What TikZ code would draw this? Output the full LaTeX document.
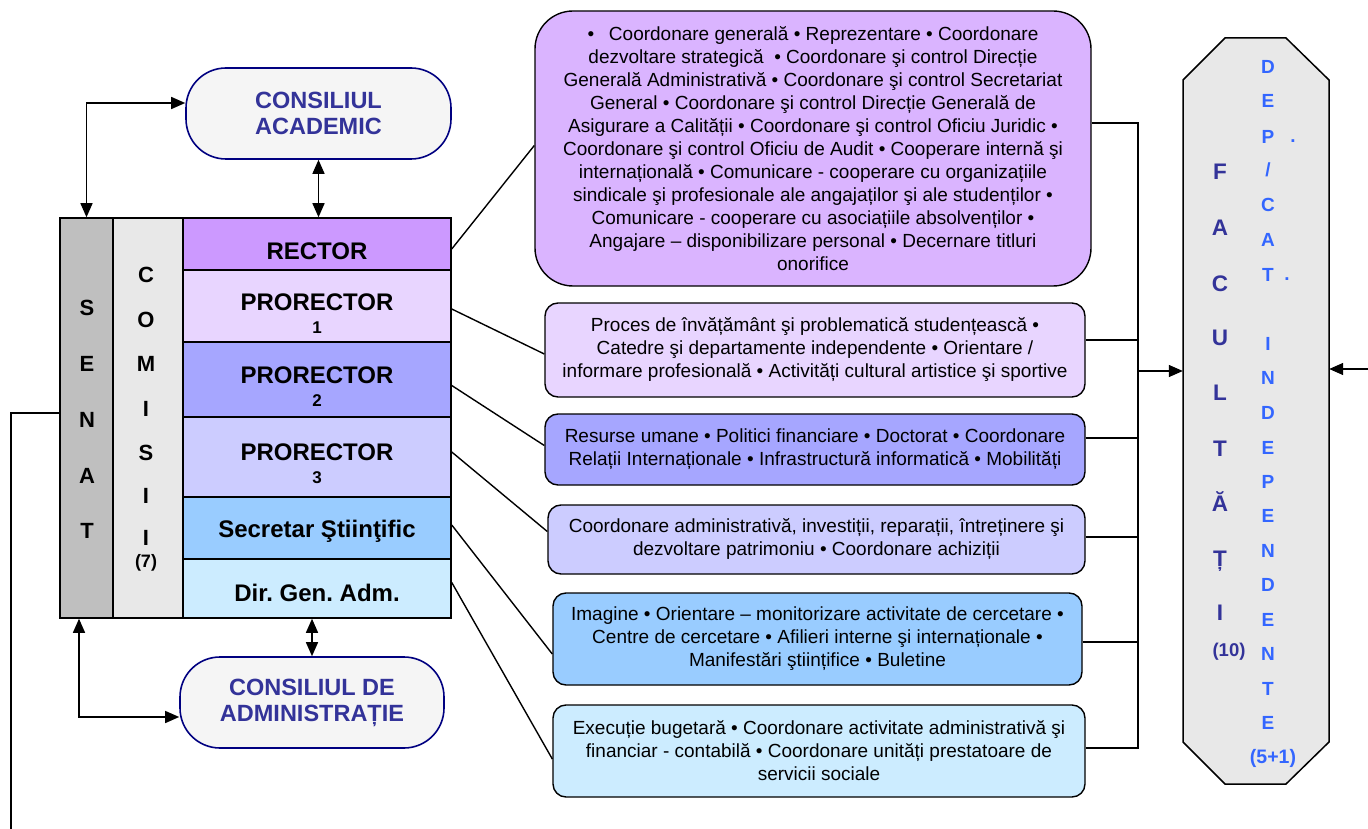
\documentclass[tikz,border=0pt]{standalone}
\usepackage{fontspec}
\setmainfont{Liberation Sans}
\usetikzlibrary{arrows.meta}
\frenchspacing
\definecolor{cnavy}{HTML}{000080}
\definecolor{cgray}{HTML}{F5F5F5}
\definecolor{ctext}{HTML}{333399}
\definecolor{cblue}{HTML}{3366FF}
\definecolor{csenat}{HTML}{BFBFBF}
\definecolor{ccom}{HTML}{E8E8E8}
\definecolor{crec}{HTML}{CC99FF}
\definecolor{cpa}{HTML}{E8D5FF}
\definecolor{cpb}{HTML}{A6A6FF}
\definecolor{cpc}{HTML}{CCCCFF}
\definecolor{css}{HTML}{99CCFF}
\definecolor{cdga}{HTML}{CCECFF}
\definecolor{cpurple}{HTML}{DAB4FF}
\tikzset{
 stk/.style={draw, line width=1.5pt, minimum width=268pt, inner sep=0pt},
 colm/.style={draw, line width=1.5pt, minimum height=400pt, inner sep=0pt},
 lbl/.style={inner sep=0pt, font=\bfseries\fontsize{24}{27}\selectfont},
 num/.style={inner sep=0pt, font=\bfseries\fontsize{17}{18}\selectfont},
 desc/.style={draw, line width=1.4pt, rounded corners=13pt, inner sep=0pt, align=center, font=\fontsize{19}{23}\selectfont},
 council/.style={draw=cnavy, line width=1.6pt, fill=cgray, rounded corners=40pt, align=center, text=ctext, inner sep=0pt, font=\bfseries\fontsize{23.5}{26}\selectfont},
 ln/.style={line width=1.4pt},
 arr/.style={ln, -{Triangle[length=14pt,width=12pt]}},
 dbl/.style={ln, {Triangle[length=14pt,width=12pt]}-{Triangle[length=14pt,width=12pt]}},
 blet/.style={inner sep=0pt, anchor=base, font=\bfseries\fontsize{22}{22}\selectfont},
 flet/.style={inner sep=0pt, anchor=base, text=ctext, font=\bfseries\fontsize{22.5}{22}\selectfont},
 dlet/.style={inner sep=0pt, anchor=base, text=cblue, font=\bfseries\fontsize{19}{18}\selectfont},
}
\begin{document}
\begin{tikzpicture}[x=1pt,y=-1pt]
\useasboundingbox (0,0) rectangle (1368,829);

% left columns
\node[colm, fill=csenat, minimum width=53pt] (sen) at (86.5,418) {};
\node[colm, fill=ccom, minimum width=70pt] (com) at (148,418) {};
\foreach \l/\y [count=\i] in {S/307,E/363,N/419,A/475,T/530}
  \node[blet] (sl\i) at (87,\y+8) {\l};
\foreach \l/\y [count=\i] in {C/274,O/319,M/363,I/408,S/452,I/495,I/537}
  \node[blet] (cl\i) at (146,\y+8) {\l};
\node[inner sep=0pt, font=\bfseries\fontsize{18}{18}\selectfont] (c7) at (146,563) {(7)};

% stack
\node[stk, fill=crec, minimum height=52pt] (rec) at (317,244) {};
\node[stk, fill=cpa, minimum height=72pt] (p1) at (317,306) {};
\node[stk, fill=cpb, minimum height=75pt] (p2) at (317,379.5) {};
\node[stk, fill=cpc, minimum height=80pt] (p3) at (317,457) {};
\node[stk, fill=css, minimum height=62pt] (ss) at (317,528) {};
\node[stk, fill=cdga, minimum height=59pt] (dga) at (317,588.5) {};
\node[lbl] (trec) at (317,251) {RECTOR};
\node[lbl] (tp1) at (317,302) {PRORECTOR};
\node[num] (np1) at (317,328) {1};
\node[lbl] (tp2) at (317,375) {PRORECTOR};
\node[num] (np2) at (317,401) {2};
\node[lbl] (tp3) at (317,452) {PRORECTOR};
\node[num] (np3) at (317,478) {3};
\node[lbl] (tss) at (317,531) {Secretar Ştiinţific};
\node[lbl] (tdga) at (317,593) {Dir. Gen. Adm.};

% councils
\node[council, minimum width=265pt, minimum height=91pt] (ca) at (318.5,113.5) {CONSILIUL\\ACADEMIC};
\node[council, minimum width=264pt, minimum height=91pt] (cda) at (312,702.5) {CONSILIUL DE\\ADMINISTRAȚIE};

% arrows left
\coordinate (c1) at (86.5,103);
\draw[dbl] (sen.north) -- (c1) -- (ca.west |- c1);
\draw[dbl] (ca.south) -- (ca.south |- rec.north);
\draw[dbl] (dga.south -| cda.north) -- (cda.north);
\coordinate (c2) at (79,717);
\draw[dbl] (sen.south -| c2) -- (c2) -- (cda.west |- c2);
\coordinate (c3) at (11,413);
\coordinate (c4) at (11,829);
\draw[ln] (sen.west |- c3) -- (c3) -- (c4);

% description boxes
\node[desc, fill=cpurple, rounded corners=38pt, minimum width=556pt, minimum height=275pt] (dr) at (813,148.5) {%
•\enspace\ Coordonare generală • Reprezentare • Coordonare\\
dezvoltare strategică \ • Coordonare şi control Direcție\\
Generală Administrativă • Coordonare şi control Secretariat\\
General • Coordonare şi control Direcție Generală de\\
Asigurare a Calității • Coordonare şi control Oficiu Juridic •\\
Coordonare şi control Oficiu de Audit • Cooperare internă şi\\
internațională • Comunicare - cooperare cu organizațiile\\
sindicale şi profesionale ale angajaților şi ale studenților •\\
Comunicare - cooperare cu asociațiile absolvenților •\\
Angajare – disponibilizare personal • Decernare titluri\\
onorifice};
\node[desc, fill=cpa, minimum width=540pt, minimum height=94pt] (d1) at (815,350) {%
Proces de învățământ şi problematică studențească •\\
Catedre şi departamente independente • Orientare /\\
informare profesională • Activități cultural artistice şi sportive};
\node[desc, fill=cpb, minimum width=540pt, minimum height=71pt] (d2) at (815,449.5) {%
Resurse umane • Politici financiare • Doctorat • Coordonare\\
Relații Internaționale • Infrastructură informatică • Mobilități};
\node[desc, fill=cpc, minimum width=537pt, minimum height=69pt] (d3) at (816.5,539.5) {%
Coordonare administrativă, investiții, reparații, întreținere şi\\
dezvoltare patrimoniu • Coordonare achiziții};
\node[desc, fill=css, minimum width=529pt, minimum height=92pt] (d4) at (817.5,639) {%
Imagine • Orientare – monitorizare activitate de cercetare •\\
Centre de cercetare • Afilieri interne şi internaționale •\\
Manifestări ştiințifice • Buletine};
\node[desc, fill=cdga, minimum width=532pt, minimum height=92pt] (d5) at (819,751) {%
Execuție bugetară • Coordonare activitate administrativă şi\\
financiar - contabilă • Coordonare unități prestatoare de\\
servicii sociale};

% connectors stack -> descriptions
\draw[ln] ([yshift=-5pt]rec.east) -- ([yshift=3pt]dr.west);
\draw[ln] ([yshift=-3pt]p1.east) -- ([yshift=-4pt]d1.west);
\draw[ln] ([yshift=-6pt]p2.east) -- ([yshift=4pt]d2.west);
\draw[ln] ([yshift=5pt]p3.east) -- ([yshift=8pt]d3.west);
\draw[ln] ([yshift=3pt]ss.east) -- ([yshift=-15pt]d4.west);
\draw[ln] ([yshift=6pt]dga.east) -- ([yshift=-8pt]d5.west);

% bus
\coordinate (b0) at (1138,123);
\coordinate (b1) at (1138,340);
\coordinate (b2) at (1138,438);
\coordinate (b3) at (1138,537);
\coordinate (b4) at (1138,642);
\coordinate (b5) at (1138,748);
\coordinate (ba) at (1138,371);
\draw[ln] (dr.east |- b0) -- (b0) -- (b5) -- (d5.east |- b5);
\draw[ln] (d1.east |- b1) -- (b1);
\draw[ln] (d2.east |- b2) -- (b2);
\draw[ln] (d3.east |- b3) -- (b3);
\draw[ln] (d4.east |- b4) -- (b4);

% faculty box
\draw[line width=1.5pt, fill=ccom] (1183,80) -- (1225,38) -- (1286,38) -- (1329,80) -- (1329,742) -- (1286,784) -- (1225,784) -- (1183,742) -- cycle;
\node[minimum width=146pt, minimum height=746pt, inner sep=0pt] (fac) at (1256,411) {};
\draw[arr] (ba) -- (fac.west |- ba);
\coordinate (r1) at (1368,369);
\draw[arr] (r1) -- (fac.east |- r1);

\foreach \l/\y [count=\i] in {F/172,A/228,C/283,U/337,L/392,T/448,Ă/503,Ț/558,I/612}
  \node[flet] (fl\i) at (1220,\y+8) {\l};
\node[inner sep=0pt, text=ctext, font=\bfseries\fontsize{18.5}{18}\selectfont] (f10) at (1229,652) {(10)};

\foreach \l/\y [count=\i] in {D/67,E/101,P/137,{/}/170,C/205,A/240,T/274,I/343,N/377,D/412,E/447,P/481,E/515,N/550,D/584,E/619,N/653,T/688,E/722}
  \node[dlet] (dl\i) at (1268,\y+7) {\l};
\node[dlet] (dot1) at (1293,143) {.};
\node[dlet] (dot2) at (1287,280) {.};
\node[inner sep=0pt, text=cblue, font=\bfseries\fontsize{19.5}{19}\selectfont] (f51) at (1273,758) {(5+1)};
\end{tikzpicture}
\end{document}
